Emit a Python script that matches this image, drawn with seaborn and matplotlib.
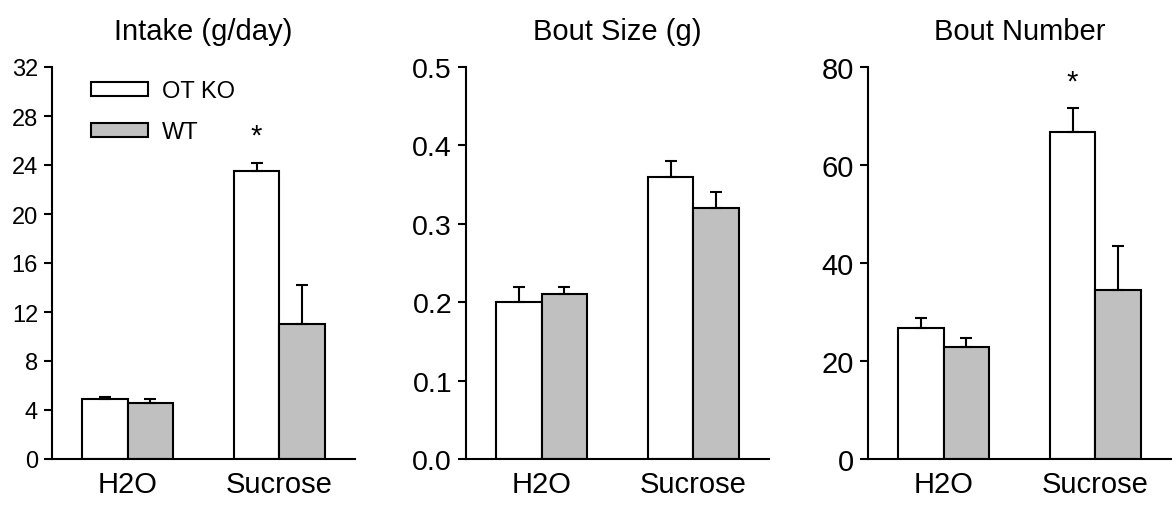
import numpy as np
import pandas as pd
import matplotlib
matplotlib.use('Agg')
import matplotlib.pyplot as plt
import seaborn as sns

sns.set_style('ticks', {'axes.edgecolor': 'black', 'text.color': 'black',
                        'xtick.color': 'black', 'ytick.color': 'black',
                        'axes.labelcolor': 'black'})
plt.rcParams['font.family'] = ['Liberation Sans', 'DejaVu Sans']

# data
fluids = ['H2O', 'Sucrose']
groups = ['OT KO', 'WT']

intake_ko = [4.9, 23.5]
intake_ko_err = [0.2, 0.7]
intake_wt = [4.6, 11.0]
intake_wt_err = [0.3, 3.2]

boutsize_ko = [0.20, 0.36]
boutsize_ko_err = [0.02, 0.02]
boutsize_wt = [0.21, 0.32]
boutsize_wt_err = [0.01, 0.02]

boutnum_ko = [26.7, 66.7]
boutnum_ko_err = [2.0, 5.0]
boutnum_wt = [22.9, 34.5]
boutnum_wt_err = [1.7, 9.0]

titles = ['Intake (g/day)', 'Bout Size (g)', 'Bout Number']
yticks = [np.arange(0, 33, 4), np.arange(0, 0.51, 0.1), np.arange(0, 81, 20)]
ylims = [(0, 32), (0, 0.5), (0, 80)]
tick_fs = [17, 20.5, 21]
star_on = [True, False, True]

panels = [
    (intake_ko, intake_ko_err, intake_wt, intake_wt_err),
    (boutsize_ko, boutsize_ko_err, boutsize_wt, boutsize_wt_err),
    (boutnum_ko, boutnum_ko_err, boutnum_wt, boutnum_wt_err),
]

colors = {'OT KO': 'white', 'WT': '#c0c0c0'}

fig = plt.figure(figsize=(11.72, 5.06), dpi=100)
lefts = [52, 466, 868]
axes = [fig.add_axes([l / 1172, 46 / 506, 303 / 1172, 392 / 506]) for l in lefts]

for i, (ax, (ko, ko_err, wt, wt_err)) in enumerate(zip(axes, panels)):
    df = pd.DataFrame({
        'fluid': fluids * 2,
        'group': [groups[0]] * 2 + [groups[1]] * 2,
        'value': ko + wt,
        'err': ko_err + wt_err,
    })
    sns.barplot(data=df, x='fluid', y='value', hue='group', order=fluids,
                hue_order=groups, palette=colors, width=0.6, errorbar=None,
                edgecolor='black', linewidth=1.5, ax=ax, legend=(i == 0))

    # error bars (upper only) placed at bar centres
    bars = [p for p in ax.patches if p.get_height() > 0][:4]
    xs = [b.get_x() + b.get_width() / 2 for b in bars]
    tops = [b.get_height() for b in bars]
    errs = list(df['err'])
    ax.errorbar(xs, tops, yerr=[np.zeros(4), errs], fmt='none', ecolor='black',
                elinewidth=1.5, capsize=4.5, capthick=1.5, zorder=1)

    if star_on[i]:
        ax.annotate('*', xy=(xs[1], tops[1] + errs[1]), xytext=(0, 9),
                    textcoords='offset points', ha='center', va='bottom',
                    fontsize=21)

    ax.set_xlim(-0.5, 1.5)
    ax.set_ylim(*ylims[i])
    ax.set_yticks(yticks[i])
    if i == 1:
        ax.set_yticklabels([f'{v:.1f}' for v in yticks[i]])
    ax.tick_params(axis='y', direction='out', length=6, width=1.5,
                   labelsize=tick_fs[i], pad=4)
    ax.tick_params(axis='x', length=0, labelsize=21, pad=8)
    ax.set_xlabel('')
    ax.set_ylabel('')
    ax.set_title(titles[i], fontsize=21, pad=20)
    sns.despine(ax=ax)
    for s in ['left', 'bottom']:
        ax.spines[s].set_linewidth(1.5)

    if i == 0:
        ax.legend(loc='upper left', bbox_to_anchor=(0.06, 1.02), frameon=False,
                  fontsize=17, handlelength=2.4, handleheight=0.5,
                  labelspacing=0.8, handletextpad=0.6)

fig.savefig('out.png', dpi=100)
